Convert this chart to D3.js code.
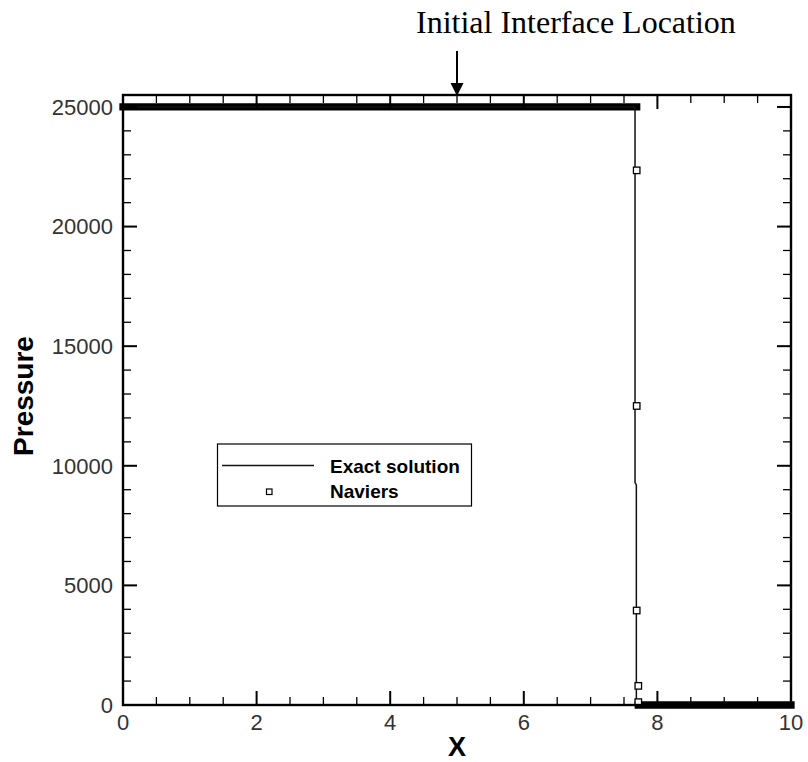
<!DOCTYPE html>
<html>
<head>
<meta charset="utf-8">
<script src="https://cdn.jsdelivr.net/npm/d3@7"></script>
<style>
  html, body { margin: 0; padding: 0; background: #fff; }
  svg { display: block; }
</style>
</head>
<body>
<svg id="chart" width="808" height="762"></svg>
<script>
// Pressure profile across the shock: exact solution vs. Naviers solver

// Exact solution (polyline)
const exactX = [0, 7.665, 7.665, 7.685, 7.685, 10];
const exactP = [25000, 25000, 9300, 9200, 0, 0];

// Naviers: densely sampled plateau runs (markers overlap into a solid band)
const naviersRunFrom = [0, 7.714];
const naviersRunTo   = [7.69, 10];
const naviersRunP    = [25000, 0];

// Naviers: isolated samples inside the shock
const naviersX = [7.69, 7.69, 7.69, 7.714, 7.714];
const naviersP = [22350, 12500, 3950, 800, 120];

// Axes
const xDomain = [0, 10];
const yDomain = [0, 25500];
const xMajorTicks = [0, 2, 4, 6, 8, 10];
const xMinorTicks = [0.5, 1, 1.5, 2.5, 3, 3.5, 4.5, 5, 5.5, 6.5, 7, 7.5, 8.5, 9, 9.5];
const yMajorTicks = [0, 5000, 10000, 15000, 20000, 25000];
const yMinorTicks = [1000, 2000, 3000, 4000, 6000, 7000, 8000, 9000, 11000, 12000, 13000, 14000,
                     16000, 17000, 18000, 19000, 21000, 22000, 23000, 24000];

const interfaceX = 5;
const legendLabels = ["Exact solution", "Naviers"];

const svg = d3.select("#chart");
const pL = 123, pR = 791, pT = 95, pB = 705;

const x = d3.scaleLinear().domain(xDomain).range([pL, pR]);
const y = d3.scaleLinear().domain(yDomain).range([pB, pT]);

const majorLen = 14, minorLen = 8;
const plot = svg.append("g");

// Naviers plateau bands
const markerSize = 6.5;
naviersRunP.forEach((p, i) => {
  plot.append("line")
    .attr("x1", x(naviersRunFrom[i])).attr("x2", x(naviersRunTo[i]))
    .attr("y1", y(p)).attr("y2", y(p))
    .attr("stroke", "#000").attr("stroke-width", markerSize + 0.8)
    .attr("stroke-linecap", "square");
});

// Exact solution line
const line = d3.line().x(d => x(d[0])).y(d => y(d[1]));
plot.append("path")
  .datum(exactX.map((v, i) => [v, exactP[i]]))
  .attr("d", line)
  .attr("fill", "none")
  .attr("stroke", "#111")
  .attr("stroke-width", 1.5);

// Naviers isolated markers
plot.selectAll("rect.nav")
  .data(naviersX.map((v, i) => [v, naviersP[i]]))
  .join("rect")
  .attr("class", "nav")
  .attr("x", d => x(d[0]) - markerSize / 2)
  .attr("y", d => y(d[1]) - markerSize / 2)
  .attr("width", markerSize).attr("height", markerSize)
  .attr("fill", "#fff").attr("stroke", "#000").attr("stroke-width", 1.3);

// Frame ticks (inward on all four sides)
const tickG = svg.append("g").attr("stroke", "#000");
function xTicks(vals, len, w) {
  vals.forEach(v => {
    tickG.append("line").attr("x1", x(v)).attr("x2", x(v))
      .attr("y1", pB).attr("y2", pB - len).attr("stroke-width", w);
    tickG.append("line").attr("x1", x(v)).attr("x2", x(v))
      .attr("y1", pT).attr("y2", pT + len).attr("stroke-width", w);
  });
}
function yTicks(vals, len, w) {
  vals.forEach(v => {
    tickG.append("line").attr("x1", pL).attr("x2", pL + len)
      .attr("y1", y(v)).attr("y2", y(v)).attr("stroke-width", w);
    tickG.append("line").attr("x1", pR).attr("x2", pR - len)
      .attr("y1", y(v)).attr("y2", y(v)).attr("stroke-width", w);
  });
}
xTicks(xMinorTicks, minorLen, 1.3);
xTicks(xMajorTicks, majorLen, 2);
yTicks(yMinorTicks, minorLen, 1.3);
yTicks(yMajorTicks, majorLen, 2);

// Frame
svg.append("rect")
  .attr("x", pL).attr("y", pT)
  .attr("width", pR - pL).attr("height", pB - pT)
  .attr("fill", "none").attr("stroke", "#000").attr("stroke-width", 2.4);

// Tick labels
const tickFont = "'Liberation Sans', Arial, sans-serif";
svg.append("g").selectAll("text")
  .data(yMajorTicks).join("text")
  .attr("x", pL - 10).attr("y", d => y(d)).attr("dy", "0.36em")
  .attr("text-anchor", "end")
  .attr("font-family", tickFont).attr("font-size", 22).attr("fill", "#333")
  .text(d => d);

svg.append("g").selectAll("text")
  .data(xMajorTicks).join("text")
  .attr("x", d => x(d)).attr("y", 730)
  .attr("text-anchor", "middle")
  .attr("font-family", tickFont).attr("font-size", 22).attr("fill", "#333")
  .text(d => d);

// Axis titles
svg.append("text")
  .attr("x", x(interfaceX)).attr("y", 756)
  .attr("text-anchor", "middle")
  .attr("font-family", tickFont).attr("font-weight", "bold").attr("font-size", 27)
  .attr("fill", "#000").text("X");

svg.append("text")
  .attr("transform", "translate(33,396) rotate(-90)")
  .attr("text-anchor", "middle")
  .attr("font-family", tickFont).attr("font-weight", "bold").attr("font-size", 28)
  .attr("fill", "#000").text("Pressure");

// Legend
const lg = svg.append("g");
lg.append("rect").attr("x", 217.5).attr("y", 444).attr("width", 254).attr("height", 62)
  .attr("fill", "#fff").attr("stroke", "#000").attr("stroke-width", 1.2);
lg.append("line").attr("x1", 222).attr("x2", 314).attr("y1", 465.5).attr("y2", 465.5)
  .attr("stroke", "#111").attr("stroke-width", 1.5);
lg.append("rect").attr("x", 266.5).attr("y", 489).attr("width", 5.5).attr("height", 5.5)
  .attr("fill", "#fff").attr("stroke", "#000").attr("stroke-width", 1.2);
lg.selectAll("text.lab").data(legendLabels).join("text")
  .attr("class", "lab")
  .attr("x", 330).attr("y", (d, i) => 473 + i * 25)
  .attr("font-family", tickFont).attr("font-weight", "bold").attr("font-size", 19)
  .attr("fill", "#000").text(d => d);

// Annotation: initial interface location
const ax = x(interfaceX);
svg.append("line").attr("x1", ax).attr("x2", ax).attr("y1", 51).attr("y2", 85)
  .attr("stroke", "#000").attr("stroke-width", 2);
svg.append("path")
  .attr("d", `M${ax - 6.5},83 L${ax + 6.5},83 L${ax},96 Z`)
  .attr("fill", "#000");
svg.append("text")
  .attr("x", 416).attr("y", 33)
  .attr("font-family", "'Liberation Serif', 'Times New Roman', serif").attr("font-size", 32)
  .attr("fill", "#000").text("Initial Interface Location");
</script>
</body>
</html>
